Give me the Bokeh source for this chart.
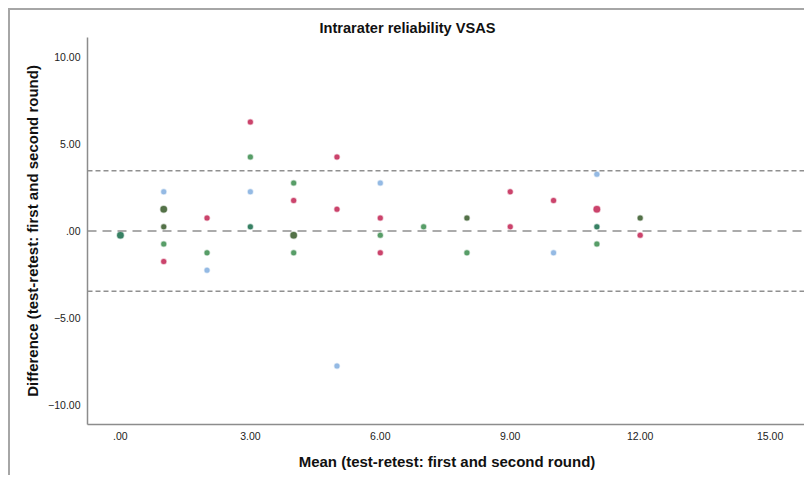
from bokeh.plotting import figure
from bokeh.models import Span, ColumnDataSource, Range1d, FixedTicker, Title
from bokeh.embed import file_html
from bokeh.resources import INLINE

# Bland-Altman data: mean of test-retest (x) vs difference (y)
mean_x = [0,
          1, 1, 1, 1, 1,
          2, 2, 2,
          3, 3, 3, 3,
          4, 4, 4, 4,
          5, 5, 5,
          6, 6, 6, 6,
          7,
          8, 8,
          9, 9,
          10, 10,
          11, 11, 11, 11,
          12, 12]
diff_y = [-0.25,
          2.25, 1.25, 0.25, -0.75, -1.75,
          0.75, -1.25, -2.25,
          6.25, 4.25, 2.25, 0.25,
          2.75, 1.75, -0.25, -1.25,
          4.25, 1.25, -7.75,
          2.75, 0.75, -0.25, -1.25,
          0.25,
          0.75, -1.25,
          2.25, 0.25,
          1.75, -1.25,
          3.25, 1.25, 0.25, -0.75,
          0.75, -0.25]
# group index of each point (colour category)
group = [4,
         1, 3, 3, 2, 0,
         0, 2, 1,
         0, 2, 1, 4,
         2, 0, 3, 2,
         0, 0, 1,
         1, 0, 2, 0,
         2,
         3, 2,
         0, 0,
         0, 1,
         1, 0, 4, 2,
         3, 0]
# number of overlapping cases per point
count = [2,
         1, 2, 1, 1, 1,
         1, 1, 1,
         1, 1, 1, 1,
         1, 1, 2, 1,
         1, 1, 1,
         1, 1, 1, 1,
         1,
         1, 1,
         1, 1,
         1, 1,
         1, 2, 1, 1,
         1, 1]

mean_diff = 0.0
loa_upper = 3.46
loa_lower = -3.46

x_ticks = [0, 3, 6, 9, 12, 15]
x_tick_labels = [".00", "3.00", "6.00", "9.00", "12.00", "15.00"]
y_ticks = [10, 5, 0, -5, -10]
y_tick_labels = ["10.00", "5.00", ".00", "\u22125.00", "\u221210.00"]

palette = ["#c83a64", "#8fb6e3", "#4f9960", "#4b6a3e", "#2d7a5c"]

src = ColumnDataSource(dict(
    x=mean_x, y=diff_y,
    color=[palette[g] for g in group],
    size=[5 + 1.5 * (c - 1) for c in count],
))

FONT = "Liberation Sans"

p = figure(width=796, height=467, output_backend="svg", toolbar_location=None,
           x_range=Range1d(-0.76, 15.84), y_range=Range1d(-11.1, 11.1),
           min_border_left=77, min_border_right=0, min_border_top=27,
           min_border_bottom=53)
p.styles = {"border-top": "2px solid #a6a6a6", "border-left": "2px solid #a6a6a6",
            "margin-left": "8px", "margin-top": "8px"}
p.outline_line_color = None
p.background_fill_color = "white"
p.border_fill_color = "white"
p.grid.visible = False

t = Title(text="Intrarater reliability VSAS", align="left", offset=232,
          text_font=FONT, text_font_size="14.6px", text_font_style="bold",
          text_color="#111111", standoff=4)
p.title = t

for ax in (p.xaxis[0], p.yaxis[0]):
    ax.axis_line_color = "#8c8c8c"
    ax.axis_line_width = 1.5
    ax.major_tick_line_color = None
    ax.minor_tick_line_color = None
    ax.major_tick_out = 0
    ax.major_tick_in = 0
    ax.major_label_text_font = FONT
    ax.major_label_text_font_size = "10.5px"
    ax.major_label_text_color = "#222222"
    ax.axis_label_text_font = FONT
    ax.axis_label_text_font_size = "15px"
    ax.axis_label_text_font_style = "bold"
    ax.axis_label_text_color = "#111111"

p.xaxis.ticker = FixedTicker(ticks=x_ticks)
p.xaxis.major_label_overrides = dict(zip(x_ticks, x_tick_labels))
p.yaxis.ticker = FixedTicker(ticks=y_ticks)
p.yaxis.major_label_overrides = dict(zip(y_ticks, y_tick_labels))
p.xaxis.axis_label = "Mean (test-retest: first and second round)"
p.yaxis.axis_label = "Difference (test-retest: first and second round)"
p.xaxis.major_label_standoff = 7
p.yaxis.major_label_standoff = 7
p.xaxis.axis_label_standoff = 10
p.yaxis.axis_label_standoff = 4

p.add_layout(Span(location=loa_upper, dimension="width", line_color="#909090",
                  line_width=1.5, line_dash="5 3"))
p.add_layout(Span(location=loa_lower, dimension="width", line_color="#909090",
                  line_width=1.5, line_dash="5 3"))
p.add_layout(Span(location=mean_diff, dimension="width", line_color="#909090",
                  line_width=1.5, line_dash="9 6"))

p.scatter("x", "y", source=src, size="size", fill_color="color", line_color="color",
          line_alpha=0.35, line_width=1.5, fill_alpha=0.95)

open("out.html", "w").write(file_html(p, INLINE))
